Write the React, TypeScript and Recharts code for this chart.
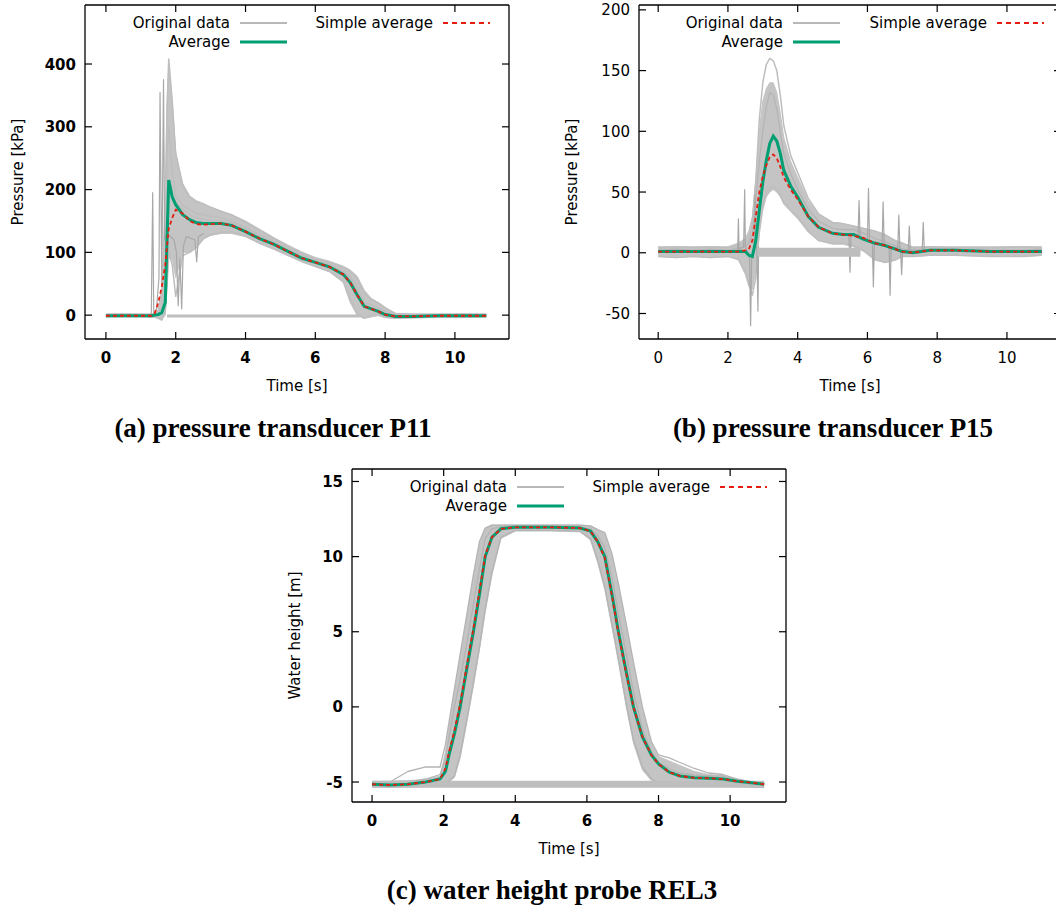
import { ComposedChart, Line, Area, XAxis, YAxis, Label } from 'recharts';

const SANS = '"DejaVu Sans", Verdana, sans-serif';
const SERIF = '"Liberation Serif", "Times New Roman", serif';
const GRAY = '#bebebe';
const BAND = '#c4c4c4';
const GREEN = '#009e73';
const RED = '#e51e10';

const xTicks = [0, 2, 4, 6, 8, 10];

// (a) pressure transducer P11
const tA = [0, 0.5, 1.0, 1.3, 1.4, 1.5, 1.6, 1.7, 1.75, 1.8, 1.9, 2.0, 2.2, 2.4, 2.6, 2.8, 3.0, 3.3, 3.6, 4.0, 4.4, 4.8, 5.2, 5.6, 6.0, 6.4, 6.8, 7.0, 7.2, 7.4, 7.6, 7.8, 8.0, 8.3, 8.8, 9.5, 10.2, 10.9];
const avgA = [-1, -1, -1, -1, 0, 1, 4, 20, 120, 215, 188, 176, 160, 152, 147, 146, 146, 146, 143, 133, 122, 113, 102, 91, 84, 77, 65, 52, 32, 14, 10, 6, 1, -2, -2, -1, -1, -1];
const simpleA = [-1, -1, -1, -1, 3, 20, 45, 80, 110, 138, 155, 168, 162, 150, 145, 144, 145, 146, 143, 133, 122, 113, 102, 91, 84, 77, 65, 52, 32, 14, 10, 6, 1, -2, -2, -1, -1, -1];
const hiA = [2, 2, 2, 2, 3, 6, 30, 200, 330, 400, 340, 260, 210, 190, 182, 178, 172, 166, 160, 150, 137, 124, 112, 101, 92, 86, 78, 72, 62, 40, 27, 20, 12, 3, 2, 2, 2, 2];
const loA = [-3, -3, -3, -3, -3, -5, -6, 0, 40, 90, 90, 60, 100, 100, 110, 122, 127, 130, 130, 125, 114, 105, 95, 85, 77, 69, 52, 20, 0, -5, -3, -1, -4, -5, -4, -4, -4, -3];
const runA1 = [1, 2, 1, 1, 2, 4, 12, 150, 330, 408, 340, 255, 205, 188, 180, 176, 172, 165, 160, 148, 135, 122, 110, 99, 90, 84, 76, 70, 58, 35, 25, 20, 12, 2, 1, 1, 2, 1];
const runA2 = [-1, -1, 0, 0, 1, 8, 40, 75, 260, 300, 230, 190, 175, 168, 162, 160, 158, 155, 150, 140, 128, 117, 106, 96, 87, 80, 71, 62, 45, 22, 16, 12, 6, 0, -1, 0, -1, 0];
const runA3 = [-2, -2, -2, -3, -3, -5, -8, 5, 60, 100, 80, 30, 95, 100, 108, 122, 128, 132, 133, 126, 115, 106, 96, 86, 78, 70, 55, 25, 2, -5, 0, 2, -3, -5, -4, -3, -3, -2];
const runA4 = [0, 0, 1, 0, 1, 2, 6, 20, 100, 200, 190, 180, 168, 160, 155, 152, 151, 150, 147, 137, 126, 116, 105, 94, 87, 80, 70, 58, 38, 18, 13, 9, 3, -1, -1, 0, 0, 0];
const spikeTA = [1.3, 1.34, 1.37, 1.45, 1.52, 1.55, 1.6, 1.65, 1.68, 1.75, 1.95, 2.02, 2.07, 2.12, 2.17, 2.22, 2.3, 2.55, 2.6, 2.65, 2.8];
const spikeVA = [0, 195, 0, 10, 60, 355, 50, 375, 120, 130, 120, 100, 15, 90, 10, 110, 125, 120, 85, 125, 130];
const wrapTA = [7.3, 1.75];
const wrapVA = [-1.5, -1.5];

// (b) pressure transducer P15
const tB = [0, 0.5, 1.0, 1.5, 2.0, 2.3, 2.5, 2.6, 2.7, 2.8, 2.9, 3.0, 3.1, 3.2, 3.3, 3.4, 3.5, 3.6, 3.8, 4.0, 4.3, 4.6, 5.0, 5.3, 5.6, 5.9, 6.2, 6.5, 6.8, 7.0, 7.3, 7.8, 8.5, 9.5, 10.5, 11.0];
const avgB = [1, 1, 1, 1, 1, 1, 1, -2, -3, 10, 35, 58, 76, 90, 96, 92, 82, 68, 55, 46, 30, 21, 16, 15, 15, 11, 8, 6, 3, 1, 0, 2, 2, 1, 1, 1];
const simpleB = [1, 1, 1, 1, 1, 1, 2, 3, 10, 30, 50, 63, 72, 79, 81, 78, 71, 62, 52, 44, 30, 21, 16, 15, 14, 12, 8, 6, 3, 1, 0, 2, 2, 1, 1, 1];
const hiB = [5, 5, 5, 5, 5, 8, 12, 18, 30, 60, 100, 125, 135, 140, 140, 132, 115, 95, 75, 62, 43, 31, 25, 24, 22, 20, 18, 15, 10, 8, 5, 5, 5, 5, 5, 5];
const loB = [-3, -4, -3, -4, -3, -6, -18, -28, -30, -15, 15, 35, 46, 50, 52, 50, 46, 40, 34, 28, 17, 10, 7, 7, 5, 1, -6, -8, -6, -3, -3, -2, -2, -3, -3, -2];
const runB1 = [4, 5, 4, 5, 4, 6, 8, 10, 25, 60, 110, 140, 155, 160, 158, 150, 130, 105, 80, 66, 45, 32, 25, 24, 22, 20, 18, 15, 10, 8, 4, 5, 4, 4, 5, 4];
const runB2 = [-3, -4, -3, -4, -3, -5, -15, -25, -35, -20, 20, 40, 50, 53, 55, 52, 48, 42, 35, 30, 18, 10, 8, 8, 6, 2, -5, -8, -6, -3, -3, -2, -2, -3, -3, -2];
const runB3 = [2, 3, 2, 3, 2, 4, 5, 8, 15, 45, 75, 100, 120, 132, 130, 118, 100, 82, 65, 52, 36, 26, 20, 19, 19, 16, 12, 9, 6, 3, 2, 3, 3, 2, 2, 3];
const spikeTB1 = [2.28, 2.3, 2.32, 2.45, 2.48, 2.5, 2.62, 2.65, 2.68, 2.75, 2.78, 2.8, 2.83, 2.86, 2.88];
const spikeVB1 = [2, 28, 2, 5, 52, 5, -5, -60, -5, 5, 48, 10, 0, -48, 5];
const spikeTB2 = [5.47, 5.5, 5.53, 5.73, 5.76, 5.79, 6.0, 6.03, 6.06, 6.14, 6.17, 6.2, 6.42, 6.45, 6.48, 6.62, 6.65, 6.68, 6.87, 6.9, 6.93, 6.95, 6.98, 7.01, 7.17, 7.2, 7.23, 7.57, 7.6, 7.63];
const spikeVB2 = [15, -16, 15, 14, 43, 13, 11, 53, 10, 9, -28, 9, 7, 42, 7, 6, -35, 5, 4, 31, 3, 3, -18, 2, 2, 22, 2, 2, 25, 2];
const wrapTB = [5.8, 2.85];
const wrapVB = [0.5, 0.5];

// (c) water height probe REL3
const tC = [0, 0.5, 1.0, 1.5, 1.9, 2.05, 2.15, 2.3, 2.46, 2.65, 2.83, 3.0, 3.16, 3.35, 3.6, 4.0, 5.0, 5.8, 6.1, 6.3, 6.5, 6.7, 6.88, 7.1, 7.3, 7.55, 7.8, 8.0, 8.3, 8.6, 9.0, 9.4, 9.8, 10.2, 10.6, 10.95];
const avgC = [-5.15, -5.2, -5.15, -5.0, -4.8, -4.3, -3.2, -1.8, 0, 2.6, 5, 7.5, 10, 11.3, 11.85, 11.95, 11.95, 11.9, 11.7, 11.0, 10, 7.5, 5, 2.3, 0, -2.0, -3.2, -3.8, -4.35, -4.6, -4.72, -4.75, -4.8, -4.95, -5.05, -5.15];
const simpleC = [-5.15, -5.2, -5.15, -5.0, -4.8, -4.1, -3.0, -1.6, 0.2, 2.8, 5.2, 7.7, 10.1, 11.3, 11.85, 11.95, 11.95, 11.9, 11.7, 11.0, 9.9, 7.4, 4.9, 2.2, 0, -2.0, -3.2, -3.8, -4.35, -4.6, -4.72, -4.75, -4.8, -4.95, -5.05, -5.15];
const hiC = [-4.95, -4.95, -4.9, -4.85, -4.6, -3.0, -1.3, 1.0, 3.3, 6.0, 8.6, 10.8, 11.9, 12.1, 12.1, 12.1, 12.1, 12.1, 12.05, 11.8, 11.5, 10.0, 8.0, 5.3, 2.8, -0.2, -2.4, -3.3, -3.6, -3.9, -4.3, -4.5, -4.6, -4.85, -5.0, -5.1];
const loC = [-5.35, -5.35, -5.35, -5.3, -5.2, -5.1, -5.0, -4.7, -3.4, -1.0, 1.4, 3.8, 6.3, 8.8, 11.2, 11.7, 11.7, 11.65, 11.1, 9.6, 7.8, 5.3, 3.0, 0, -2.4, -4.2, -4.9, -5.1, -5.2, -5.3, -5.3, -5.3, -5.3, -5.3, -5.35, -5.35];
const runC1 = [-5.0, -5.0, -4.3, -4.0, -4.0, -2.5, -1.0, 1.2, 3.5, 6.2, 8.8, 11.0, 11.9, 12.1, 12.1, 12.1, 12.1, 12.1, 12.05, 11.8, 11.6, 10.2, 8.2, 5.5, 3.0, 0, -2.3, -3.2, -3.4, -3.7, -4.1, -4.4, -4.5, -4.8, -5.0, -5.1];
const runC2 = [-5.3, -5.3, -5.3, -5.2, -5.1, -5.0, -4.9, -4.6, -3.2, -0.8, 1.6, 4.0, 6.5, 9.0, 11.3, 11.75, 11.75, 11.7, 11.2, 9.8, 8.0, 5.5, 3.2, 0.2, -2.2, -4.0, -4.8, -5.0, -5.1, -5.2, -5.2, -5.2, -5.2, -5.2, -5.3, -5.3];
const runC3 = [-5.1, -5.1, -5.0, -4.8, -4.5, -3.5, -2.0, 0, 1.8, 4.3, 6.8, 9.2, 11.2, 11.85, 12.0, 12.05, 12.0, 12.0, 11.85, 11.4, 10.6, 8.6, 6.2, 3.5, 1.0, -1.5, -3.0, -3.7, -4.1, -4.4, -4.55, -4.6, -4.6, -4.85, -5.0, -5.1];
const wrapTC = [10.95, 0.05];
const wrapVC = [-5.15, -5.15];

type Pt = { t: number; v: number };
type Trace = { data: Pt[]; color: string; width: number };

const pts = (t: number[], v: number[]): Pt[] => t.map((x, i) => ({ t: x, v: v[i] }));
const band = (t: number[], lo: number[], hi: number[]) => t.map((x, i) => ({ t: x, r: [lo[i], hi[i]] }));

const BottomTick = ({ x, y, payload, bold }: any) => (
  <g>
    <line x1={x} y1={y} x2={x} y2={y - 7} stroke="#000" strokeWidth={1.2} />
    <text x={x} y={y + 24} textAnchor="middle" fontFamily={SANS} fontSize={15} fontWeight={bold ? 'bold' : 'normal'} fill="#000">
      {payload.value}
    </text>
  </g>
);
const TopTick = ({ x, y }: any) => <line x1={x} y1={y} x2={x} y2={y + 7} stroke="#000" strokeWidth={1.2} />;
const LeftTick = ({ x, y, payload, bold }: any) => (
  <g>
    <line x1={x} y1={y} x2={x + 7} y2={y} stroke="#000" strokeWidth={1.2} />
    <text x={x - 9} y={y + 5.5} textAnchor="end" fontFamily={SANS} fontSize={15} fontWeight={bold ? 'bold' : 'normal'} fill="#000">
      {payload.value}
    </text>
  </g>
);
const RightTick = ({ x, y }: any) => <line x1={x} y1={y} x2={x - 7} y2={y} stroke="#000" strokeWidth={1.2} />;

interface PanelProps {
  width: number;
  height: number;
  margin: { top: number; right: number; bottom: number; left: number };
  yAxisWidth: number;
  xAxisHeight: number;
  xDomain: [number, number];
  yDomain: [number, number];
  yTicks: number[];
  bold: boolean;
  yTitle: string;
  yTitleGap: number;
  spread: { t: number; r: number[] }[];
  runs: Trace[];
  avg: Pt[];
  simple: Pt[];
}

function Panel(p: PanelProps) {
  const frame = { stroke: '#000', strokeWidth: 1.3 };
  return (
    <ComposedChart width={p.width} height={p.height} margin={p.margin}>
      <XAxis
        type="number"
        dataKey="t"
        domain={p.xDomain}
        allowDataOverflow
        ticks={xTicks}
        interval={0}
        height={p.xAxisHeight}
        tickSize={0}
        tickMargin={0}
        tickLine={false}
        axisLine={frame}
        tick={<BottomTick bold={p.bold} />}
      >
        <Label
          content={(lp: any) => (
            <text
              x={lp.viewBox.x + lp.viewBox.width / 2}
              y={lp.viewBox.y + 52}
              textAnchor="middle"
              fontFamily={SANS}
              fontSize={15}
              fill="#000"
            >
              Time [s]
            </text>
          )}
        />
      </XAxis>
      <XAxis
        xAxisId="top"
        orientation="top"
        type="number"
        dataKey="t"
        domain={p.xDomain}
        allowDataOverflow
        ticks={xTicks}
        interval={0}
        height={1}
        tickSize={0}
        tickMargin={0}
        tickLine={false}
        axisLine={frame}
        tick={<TopTick />}
      />
      <YAxis
        type="number"
        domain={p.yDomain}
        allowDataOverflow
        ticks={p.yTicks}
        interval={0}
        width={p.yAxisWidth}
        tickSize={0}
        tickMargin={0}
        tickLine={false}
        axisLine={frame}
        tick={<LeftTick bold={p.bold} />}
      >
        <Label
          content={(lp: any) => {
            const cx = lp.viewBox.x + lp.viewBox.width - p.yTitleGap;
            const cy = lp.viewBox.y + lp.viewBox.height / 2;
            return (
              <text
                x={cx}
                y={cy}
                transform={`rotate(-90, ${cx}, ${cy})`}
                textAnchor="middle"
                dominantBaseline="central"
                fontFamily={SANS}
                fontSize={15}
                fill="#000"
              >
                {p.yTitle}
              </text>
            );
          }}
        />
      </YAxis>
      <YAxis
        yAxisId="right"
        orientation="right"
        type="number"
        domain={p.yDomain}
        allowDataOverflow
        ticks={p.yTicks}
        interval={0}
        width={1}
        tickSize={0}
        tickMargin={0}
        tickLine={false}
        axisLine={frame}
        tick={<RightTick />}
      />
      <Area
        data={p.spread}
        dataKey="r"
        stroke={BAND}
        strokeWidth={1}
        fill={BAND}
        fillOpacity={1}
        dot={false}
        activeDot={false}
        isAnimationActive={false}
      />
      {p.runs.map((r, i) => (
        <Line
          key={`run-${i}`}
          data={r.data}
          dataKey="v"
          stroke={r.color}
          strokeWidth={r.width}
          dot={false}
          activeDot={false}
          isAnimationActive={false}
          strokeLinejoin="round"
        />
      ))}
      <Line data={p.avg} dataKey="v" stroke={GREEN} strokeWidth={3} dot={false} activeDot={false} isAnimationActive={false} />
      <Line
        data={p.simple}
        dataKey="v"
        stroke={RED}
        strokeWidth={1.8}
        strokeDasharray="4 3"
        dot={false}
        activeDot={false}
        isAnimationActive={false}
      />
    </ComposedChart>
  );
}

const LegendBlock = ({ x1, x2, y }: { x1: number; x2: number; y: number }) => (
  <g fontFamily={SANS} fontSize={15} fill="#000">
    <text x={x1} y={y + 5} textAnchor="end">Original data</text>
    <line x1={x1 + 10} x2={x1 + 57} y1={y} y2={y} stroke="#a0a0a0" strokeWidth={1.5} />
    <text x={x1} y={y + 24} textAnchor="end">Average</text>
    <line x1={x1 + 10} x2={x1 + 57} y1={y + 19} y2={y + 19} stroke={GREEN} strokeWidth={3} />
    <text x={x2} y={y + 5} textAnchor="end">Simple average</text>
    <line x1={x2 + 10} x2={x2 + 57} y1={y} y2={y} stroke={RED} strokeWidth={1.8} strokeDasharray="5 4" />
  </g>
);

const titleStyle = (cx: number, top: number): React.CSSProperties => ({
  position: 'absolute',
  left: cx - 250,
  top,
  width: 500,
  textAlign: 'center',
  fontFamily: SERIF,
  fontWeight: 'bold',
  fontSize: 27,
  lineHeight: '30px',
  color: '#000',
});

export default function App() {
  const runsA: Trace[] = [
    { data: pts(tA, runA1), color: GRAY, width: 1.5 },
    { data: pts(tA, runA2), color: GRAY, width: 1.5 },
    { data: pts(tA, runA3), color: GRAY, width: 1.5 },
    { data: pts(tA, runA4), color: GRAY, width: 1.5 },
    { data: pts(spikeTA, spikeVA), color: '#a8a8a8', width: 1.2 },
    { data: pts(wrapTA, wrapVA), color: GRAY, width: 3 },
  ];
  const runsB: Trace[] = [
    { data: pts(tB, runB1), color: GRAY, width: 1.5 },
    { data: pts(tB, runB2), color: GRAY, width: 1.5 },
    { data: pts(tB, runB3), color: '#b4b4b4', width: 1.2 },
    { data: pts(spikeTB1, spikeVB1), color: '#a8a8a8', width: 1.2 },
    { data: pts(spikeTB2, spikeVB2), color: '#a8a8a8', width: 1.2 },
    { data: pts(wrapTB, wrapVB), color: GRAY, width: 9 },
  ];
  const runsC: Trace[] = [
    { data: pts(tC, runC1), color: '#b4b4b4', width: 1.3 },
    { data: pts(tC, runC2), color: '#b4b4b4', width: 1.3 },
    { data: pts(tC, runC3), color: '#b4b4b4', width: 1.3 },
    { data: pts(wrapTC, wrapVC), color: GRAY, width: 7 },
  ];

  return (
    <div style={{ position: 'absolute', left: 0, top: 0, width: 1056, height: 909, overflow: 'hidden', background: '#fff' }}>
      <div style={{ position: 'absolute', left: 0, top: 0 }}>
        <Panel
          width={540}
          height={400}
          margin={{ top: 4, right: 30, bottom: 0, left: 0 }}
          yAxisWidth={85}
          xAxisHeight={61}
          xDomain={[-0.6, 11.55]}
          yDomain={[-38, 494]}
          yTicks={[0, 100, 200, 300, 400]}
          bold
          yTitle="Pressure [kPa]"
          yTitleGap={67}
          spread={band(tA, loA, hiA)}
          runs={runsA}
          avg={pts(tA, avgA)}
          simple={pts(tA, simpleA)}
        />
      </div>
      <div style={{ position: 'absolute', left: 540, top: 0 }}>
        <Panel
          width={530}
          height={400}
          margin={{ top: 4, right: 8, bottom: 0, left: 0 }}
          yAxisWidth={99}
          xAxisHeight={61}
          xDomain={[-0.55, 11.55]}
          yDomain={[-71, 204]}
          yTicks={[-50, 0, 50, 100, 150, 200]}
          bold={false}
          yTitle="Pressure [kPa]"
          yTitleGap={67}
          spread={band(tB, loB, hiB)}
          runs={runsB}
          avg={pts(tB, avgB)}
          simple={pts(tB, simpleB)}
        />
      </div>
      <div style={{ position: 'absolute', left: 270, top: 460 }}>
        <Panel
          width={540}
          height={400}
          margin={{ top: 8, right: 23, bottom: 0, left: 0 }}
          yAxisWidth={82}
          xAxisHeight={58}
          xDomain={[-0.56, 11.56]}
          yDomain={[-6.33, 15.83]}
          yTicks={[-5, 0, 5, 10, 15]}
          bold
          yTitle="Water height [m]"
          yTitleGap={57}
          spread={band(tC, loC, hiC)}
          runs={runsC}
          avg={pts(tC, avgC)}
          simple={pts(tC, simpleC)}
        />
      </div>
      <svg width={1056} height={909} style={{ position: 'absolute', left: 0, top: 0, pointerEvents: 'none' }}>
        <LegendBlock x1={230} x2={433} y={23} />
        <LegendBlock x1={783} x2={987} y={23} />
        <LegendBlock x1={507} x2={710} y={487} />
      </svg>
      <div style={titleStyle(273, 413)}>(a) pressure transducer P11</div>
      <div style={titleStyle(833, 413)}>(b) pressure transducer P15</div>
      <div style={titleStyle(552, 875)}>(c) water height probe REL3</div>
    </div>
  );
}
